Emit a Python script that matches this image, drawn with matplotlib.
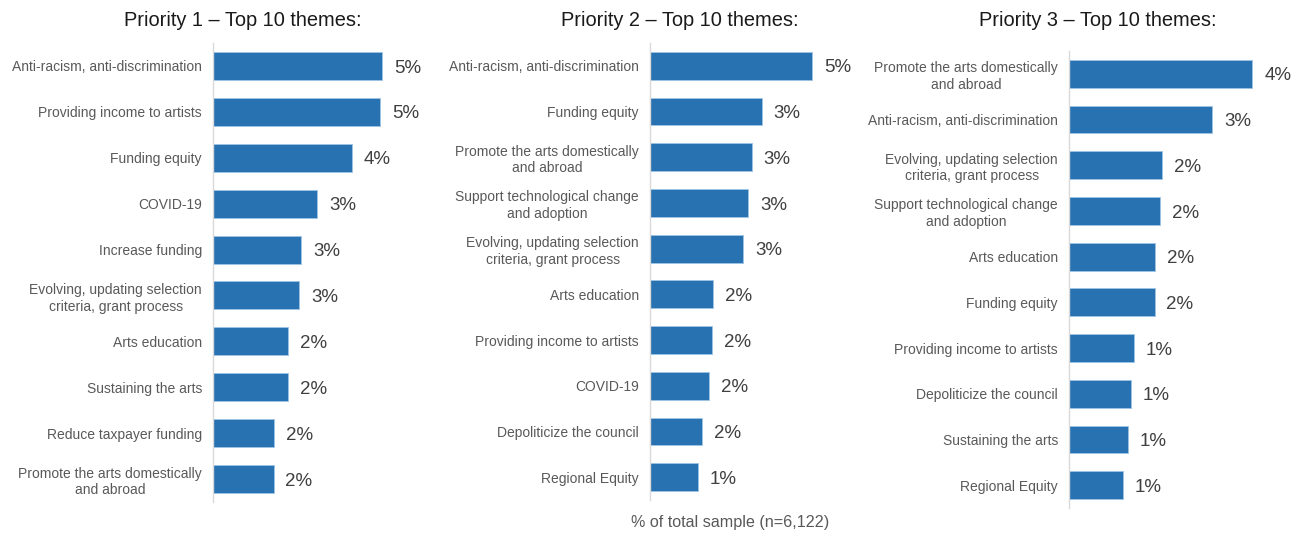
import matplotlib.pyplot as plt

plt.rcParams['font.family'] = ['Liberation Sans', 'DejaVu Sans']

# theme shares (% of total sample), top to bottom
p1_themes = ['Anti-racism, anti-discrimination', 'Providing income to artists',
             'Funding equity', 'COVID-19', 'Increase funding',
             'Evolving, updating selection\ncriteria, grant process',
             'Arts education', 'Sustaining the arts', 'Reduce taxpayer funding',
             'Promote the arts domestically\nand abroad']
p1_values = [4.97, 4.91, 4.09, 3.06, 2.59, 2.53, 2.21, 2.20, 1.79, 1.78]

p2_themes = ['Anti-racism, anti-discrimination', 'Funding equity',
             'Promote the arts domestically\nand abroad',
             'Support technological change\nand adoption',
             'Evolving, updating selection\ncriteria, grant process',
             'Arts education', 'Providing income to artists', 'COVID-19',
             'Depoliticize the council', 'Regional Equity']
p2_values = [4.84, 3.34, 3.04, 2.93, 2.78, 1.88, 1.85, 1.76, 1.55, 1.43]

p3_themes = ['Promote the arts domestically\nand abroad',
             'Anti-racism, anti-discrimination',
             'Evolving, updating selection\ncriteria, grant process',
             'Support technological change\nand adoption',
             'Arts education', 'Funding equity', 'Providing income to artists',
             'Depoliticize the council', 'Sustaining the arts', 'Regional Equity']
p3_values = [4.07, 3.18, 2.07, 2.02, 1.91, 1.90, 1.44, 1.38, 1.31, 1.20]

titles = ['Priority 1 \u2013 Top 10 themes:', 'Priority 2 \u2013 Top 10 themes:',
          'Priority 3 \u2013 Top 10 themes:']
xlabel = '% of total sample (n=6,122)'

W, H = 1301, 536
fig = plt.figure(figsize=(W / 100, H / 100), dpi=100)

# pixel boxes: left, top, bottom, and x-range of each panel
boxes = [(213, 43, 502, 5.88), (650, 43, 500, 5.97), (1069, 51, 508, 4.44)]
title_x = [243, 680, 1098]
panels = [(p1_themes, p1_values), (p2_themes, p2_values), (p3_themes, p3_values)]

bar_col = '#2872B1'
for k, ((themes, vals), (left, top, bot, xmax)) in enumerate(zip(panels, boxes)):
    ax = fig.add_axes([left / W, (H - bot) / H, 200 / W, (bot - top) / H])
    ypos = range(len(vals))
    ax.barh(ypos, vals, height=0.61, color=bar_col, edgecolor='#9DC3E6', linewidth=0.6)
    for y, v in zip(ypos, vals):
        ax.annotate(f'{v:.0f}%', (v, y), xytext=(8.5, -1.5), textcoords='offset points',
                    va='center', ha='left', fontsize=13.5, color='#404040')
    ax.set_ylim(len(vals) - 0.5, -0.5)
    ax.set_xlim(0, xmax)
    ax.set_yticks(list(ypos))
    ax.set_yticklabels(themes, fontsize=10, color='#595959', linespacing=1.25)
    for lab in ax.get_yticklabels():
        lab.set_multialignment('center')
    ax.tick_params(axis='y', length=0, pad=8)
    ax.set_xticks([])
    for s in ['top', 'right', 'bottom']:
        ax.spines[s].set_visible(False)
    ax.spines['left'].set_color('#D9D9D9')
    ax.spines['left'].set_linewidth(1.0)
    fig.text(title_x[k] / W, 1 - 20 / H, titles[k], ha='center', va='center',
             fontsize=14.4, color='#1a1a1a')

fig.text(730 / W, 1 - 523 / H, xlabel, ha='center', va='center',
         fontsize=11.6, color='#595959')

fig.savefig('out.png', dpi=100, facecolor='white')
